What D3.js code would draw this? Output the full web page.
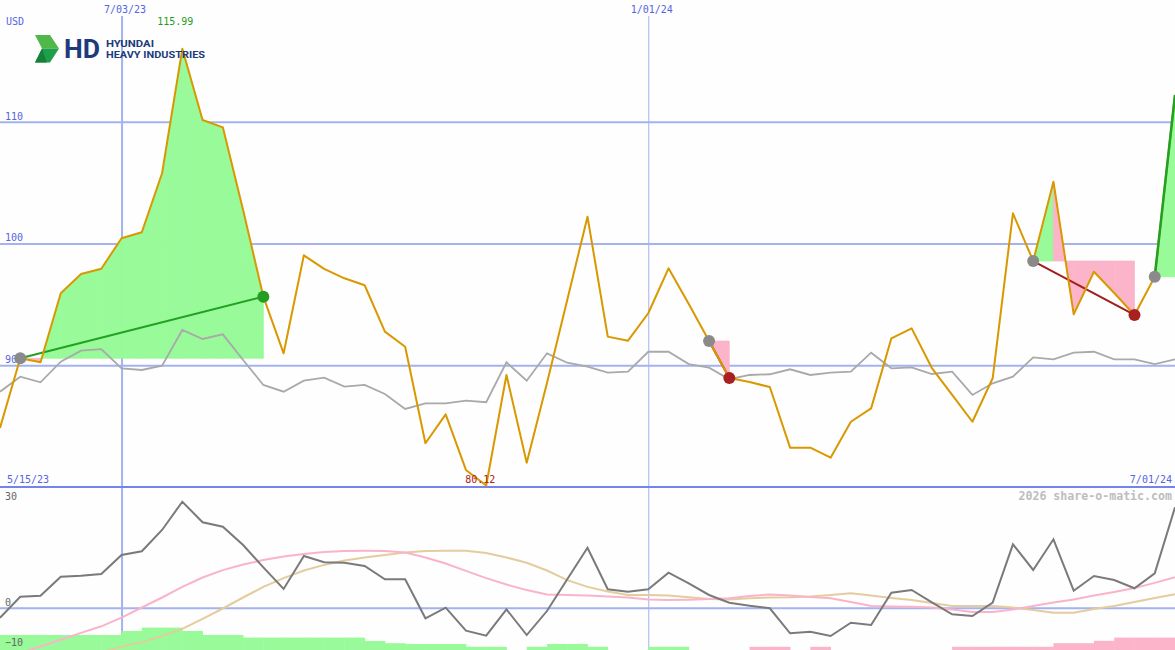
<!DOCTYPE html>
<html><head><meta charset="utf-8">
<script src="https://cdn.jsdelivr.net/npm/d3@7"></script>
<style>
body{margin:0;background:#fdfefd}
svg{display:block}
text{font-family:"DejaVu Sans Mono",monospace}
</style>
</head><body>
<svg id="c" width="1175" height="650"></svg>
<script>
// ---------- data ----------
const dates = [
 "2023-05-22","2023-05-29","2023-06-05","2023-06-12","2023-06-19","2023-06-26","2023-07-03","2023-07-10","2023-07-17","2023-07-24",
 "2023-07-31","2023-08-07","2023-08-14","2023-08-21","2023-08-28","2023-09-04","2023-09-11","2023-09-18","2023-09-25","2023-10-02",
 "2023-10-09","2023-10-16","2023-10-23","2023-10-30","2023-11-06","2023-11-13","2023-11-20","2023-11-27","2023-12-04","2023-12-11",
 "2023-12-18","2023-12-25","2024-01-01","2024-01-08","2024-01-15","2024-01-22","2024-01-29","2024-02-05","2024-02-12","2024-02-19",
 "2024-02-26","2024-03-04","2024-03-11","2024-03-18","2024-03-25","2024-04-01","2024-04-08","2024-04-15","2024-04-22","2024-04-29",
 "2024-05-06","2024-05-13","2024-05-20","2024-05-27","2024-06-03","2024-06-10","2024-06-17","2024-06-24","2024-07-01"];
const price = [84.85, 90.57, 90.24, 95.91, 97.49, 97.93, 100.43, 100.92, 105.77, 115.99,
 110.14, 109.54, 102.75, 95.63, 90.98, 99.03, 97.91, 97.14, 96.57, 92.76,
 91.52, 83.59, 85.97, 81.40, 80.12, 89.20, 82.00, 88.54, 95.36, 102.20,
 92.35, 92.02, 94.27, 97.96, 95.03, 91.99, 88.95, 88.62, 88.21, 83.23,
 83.23, 82.41, 85.36, 86.46, 92.21, 93.03, 89.77, 87.56, 85.36, 88.93,
 102.48, 98.56, 105.08, 94.18, 97.68, 95.93, 94.13, 97.27, 112.20];
const relative = [87.83, 89.06, 88.60, 90.29, 91.20, 91.33, 89.75, 89.61, 89.96, 92.90,
 92.16, 92.54, 90.43, 88.38, 87.83, 88.73, 88.98, 88.24, 88.38, 87.64,
 86.41, 86.87, 86.87, 87.09, 86.96, 90.24, 88.73, 90.98, 90.21, 89.88,
 89.39, 89.47, 91.11, 91.11, 90.10, 89.80, 88.85, 89.20, 89.26, 89.67,
 89.20, 89.39, 89.47, 91.03, 89.75, 89.83, 89.28, 89.47, 87.56, 88.52,
 89.06, 90.65, 90.49, 91.03, 91.11, 90.49, 90.49, 90.10, 90.49];
const momentum = [-2.5, 2.75, 3.0, 7.75, 8.0, 8.43, 13.18, 14.1, 19.43, 26.5,
 21.35, 20.25, 15.68, 10.1, 4.68, 12.93, 11.35, 11.25, 10.43, 7.1,
 7.1, -2.65, 0, -5.75, -7.0, -0.4, -6.83, -0.83, 7.1, 15.0,
 4.6, 4.0, 4.6, 8.75, 6.1, 3.18, 1.25, 0.5, -0.15, -6.4,
 -6.0, -7.08, -3.75, -4.33, 3.75, 4.43, 1.35, -1.65, -2.08, 1.25,
 15.85, 9.43, 17.1, 4.25, 7.93, 6.93, 4.85, 8.6, 25.1];
const avgFast = [-13, -11.3, -9.7, -8.0, -6.3, -4.65, -2.5, 0.05, 2.55, 5.2,
 7.55, 9.4, 10.8, 11.9, 12.8, 13.4, 13.9, 14.2, 14.25, 14.2,
 13.8, 12.55, 11.05, 9.2, 7.4, 5.8, 4.4, 3.3, 3.2, 3.05,
 2.8, 2.55, 2.05, 1.9, 2.0, 2.2, 2.35, 2.9, 3.3, 3.05,
 2.7, 2.35, 1.4, 0.4, 0.3, 0.25, 0.05, -0.45, -1.1, -1.1,
 -0.45, 0.4, 1.3, 2.05, 3.05, 3.9, 4.9, 6.2, 7.6];
const avgSlow = [-17.6, -16.3, -15, -13.7, -12.4, -11.1, -9.8, -8.6, -7.1, -5.3,
 -2.8, -0.2, 2.55, 5.2, 7.4, 9.3, 10.7, 11.8, 12.55, 13.2,
 13.8, 14.2, 14.25, 14.25, 13.7, 12.55, 11.25, 9.3, 6.9, 5.2,
 4.05, 3.2, 3.2, 3.05, 2.6, 2.2, 2.05, 2.35, 2.55, 2.6,
 2.8, 3.2, 3.6, 3.05, 2.45, 1.9, 1.2, 0.4, 0.4, 0.4,
 0.05, -0.6, -1.25, -1.25, -0.3, 0.4, 1.4, 2.4, 3.35];
const histogram = [3.75, 3.75, 3.75, 3.75, 3.75, 3.75, 4.75, 5.6, 5.6, 4.75,
 3.75, 3.75, 3.1, 3.1, 3.1, 3.1, 3.1, 3.1, 2.25, 1.7,
 1.5, 1.5, 1.5, 0.8, 0.8, 0, 0.8, 1.5, 1.5, 0.8,
 0, 0, 0.8, 0.8, 0, 0, 0, -0.8, -0.8, 0,
 -0.8, 0, 0, 0, 0, 0, 0, -0.8, -0.8, -0.8,
 -0.8, -0.8, -1.7, -1.7, -2.3, -3.1, -3.1, -3.1, -3.1];
const signalEntry = ["2023-05-29", "2024-01-22", "2024-05-13", "2024-06-24"];
const signalExit  = ["2023-08-21", "2024-01-29", "2024-06-17", "2024-07-01"];
const signalOpen  = [false, false, false, true];
const priceTicks = [110, 100, 90];
const oscTicks = [30, 0, -10];
const dateTicks = ["2023-07-03", "2024-01-01"];
const dateTickLabels = ["7/03/23", "1/01/24"];
const startLabel = "5/15/23", endLabel = "7/01/24";
const currency = "USD";
const maxLabel = "115.99", minLabel = "80.12";
const watermark = "2026 share-o-matic.com";

// ---------- setup ----------
const W = 1175, H = 650;
const svg = d3.select("#c");
const parse = d3.utcParse("%Y-%m-%d");
const D = dates.map(parse);
const x = d3.scaleUtc().domain([D[0], D[D.length - 1]]).range([0, W]);
const y = d3.scaleLinear().domain([80, 120]).range([487, 0]);
const y2 = d3.scaleLinear().domain([-10, 30]).range([647.7, 487.7]);
const yh = d3.scaleLinear().domain([0, 10]).range([650, 610]);
const step = x(D[1]) - x(D[0]);
const idx = s => dates.indexOf(s);

const BLUE = "#5565e5", GRID = "#a4b2f2";
const GREENF = "#98fa98", PINKF = "#fbb4c9";

svg.append("rect").attr("width", W).attr("height", H).attr("fill", "#fdfefd");

// ---------- grid & axes ----------
const gy = svg.append("g").call(d3.axisRight(y).tickValues(priceTicks).tickSize(W).tickFormat(d3.format("d")));
gy.select(".domain").remove();
gy.selectAll("line").attr("stroke", GRID).attr("stroke-width", 2);
gy.selectAll("text").attr("x", 5).attr("dy", -2.6).attr("fill", BLUE).style("font-size", "10px");

const gx = svg.append("g").attr("transform", "translate(0,16)")
  .call(d3.axisTop(x).tickValues(dateTicks.map(parse)).tickSize(-(H - 16)).tickFormat((d, i) => dateTickLabels[i]));
gx.select(".domain").remove();
gx.selectAll("line").attr("stroke", GRID).attr("stroke-width", (d, i) => i === 0 ? 2 : 1);
gx.selectAll("text").attr("dx", 3).attr("fill", BLUE).style("font-size", "10px");

const g2 = svg.append("g").call(d3.axisRight(y2).tickValues(oscTicks).tickSize(W).tickFormat(d3.format("d")));
g2.select(".domain").remove();
g2.selectAll("line").attr("stroke", d => d === 0 ? GRID : "none").attr("stroke-width", 2);
g2.selectAll("text").remove();

svg.append("line").attr("x1", 0).attr("x2", W).attr("y1", y(80)).attr("y2", y(80))
  .attr("stroke", "#7584ec").attr("stroke-width", 2);

// ---------- bottom panel ----------
svg.append("g").selectAll("rect")
  .data(histogram.map((v, i) => ({ v, i })).filter(d => d.v !== 0))
  .join("rect")
  .attr("x", d => x(D[d.i])).attr("width", step + 0.4)
  .attr("y", d => yh(Math.abs(d.v))).attr("height", d => H - yh(Math.abs(d.v)))
  .attr("fill", d => d.v > 0 ? GREENF : PINKF);

const line2 = d3.line().x((d, i) => x(D[i])).y(d => y2(d));
svg.append("path").datum(avgSlow).attr("d", line2).attr("fill", "none").attr("stroke", "#e4cc9e").attr("stroke-width", 2);
svg.append("path").datum(avgFast).attr("d", line2).attr("fill", "none").attr("stroke", "#f9b4c9").attr("stroke-width", 2);
svg.append("path").datum(momentum).attr("d", line2).attr("fill", "none").attr("stroke", "#7a7a7a").attr("stroke-width", 2);

const g2t = svg.append("g").call(d3.axisRight(y2).tickValues(oscTicks).tickSize(0).tickFormat(d3.format("d")));
g2t.select(".domain").remove();
g2t.selectAll("line").remove();
g2t.selectAll("text").attr("x", 5).attr("dy", d => d === 30 ? 12 : -2).attr("fill", "#666").style("font-size", "10px");

// ---------- signal fills ----------
const fills = svg.append("g");
signalEntry.forEach((s, k) => {
  const a = idx(s), b = idx(signalExit[k]);
  const base = price[a];
  const ar = d3.area().x(j => x(D[j])).y0(y(base)).y1(j => y(price[j]));
  for (let i = a; i < b; i++) {
    const col = price[i + 1] >= base ? GREENF : PINKF;
    fills.append("path").attr("d", ar([i, i + 1]))
      .attr("fill", col).attr("stroke", col).attr("stroke-width", 0.7);
  }
});

// ---------- main lines ----------
const line1 = d3.line().x((d, i) => x(D[i])).y(d => y(d));
svg.append("path").datum(relative).attr("d", line1).attr("fill", "none").attr("stroke", "#a9a9a9").attr("stroke-width", 1.8);

const drawSignalLine = k => {
  const a = idx(signalEntry[k]), b = idx(signalExit[k]);
  const win = price[b] >= price[a];
  svg.append("line").attr("x1", x(D[a])).attr("y1", y(price[a])).attr("x2", x(D[b])).attr("y2", y(price[b]))
    .attr("stroke", win ? "#22a022" : "#a01e1e").attr("stroke-width", signalOpen[k] ? 2.5 : 2);
};
signalEntry.forEach((s, k) => { if (!signalOpen[k]) drawSignalLine(k); });

svg.append("path").datum(price).attr("d", line1).attr("fill", "none").attr("stroke", "#da9800").attr("stroke-width", 2).attr("stroke-linejoin", "round");

signalEntry.forEach((s, k) => { if (signalOpen[k]) drawSignalLine(k); });

// ---------- labels ----------
const T = (t, xx, yy, opt = {}) => svg.append("text").text(t).attr("x", xx).attr("y", yy)
  .attr("fill", opt.fill || BLUE).attr("text-anchor", opt.anchor || "start")
  .style("font-size", opt.size || "10px").style("font-weight", opt.weight || "normal");
T(currency, 6, 24.6);
T(startLabel, 7, 482.6);
T(endLabel, 1172, 482.6, { anchor: "end" });
const iMax = price.indexOf(d3.max(price)), iMin = price.indexOf(d3.min(price));
T(maxLabel, x(D[iMax]) - 7, 25, { anchor: "middle", fill: "#1e9e1e" });
T(minLabel, x(D[iMin]) - 6, y(price[iMin]) - 2.5, { anchor: "middle", fill: "#aa2222" });
T(watermark, 1172, 500, { anchor: "end", fill: "#bdbdbd", size: "11.6px", weight: "bold" });

// ---------- markers ----------
signalEntry.forEach((s, k) => {
  const a = idx(s), b = idx(signalExit[k]);
  const win = price[b] >= price[a];
  svg.append("circle").attr("cx", x(D[a])).attr("cy", y(price[a])).attr("r", 6).attr("fill", "#8a8a8a");
  if (!signalOpen[k]) {
    svg.append("circle").attr("cx", x(D[b])).attr("cy", y(price[b])).attr("r", 6)
      .attr("fill", win ? "#229c22" : "#a82020");
  }
});

// ---------- logo ----------
const logo = svg.append("g");
logo.append("polygon").attr("points", "35,35 50,35 59,48.5 42,48.5").attr("fill", "#4fb848");
logo.append("polygon").attr("points", "42,48.5 59,48.5 50,62.5 35,62.5").attr("fill", "#1fa048");
logo.append("polygon").attr("points", "35,62.5 42,48.5 47,62.5").attr("fill", "#168038");
logo.append("text").text("HD").attr("x", 64).attr("y", 57.5).attr("fill", "#1d3b7c")
  .attr("textLength", 36).attr("lengthAdjust", "spacingAndGlyphs")
  .style("font-family", "Roboto, Arial, sans-serif").style("font-weight", "bold").style("font-size", "26px");
logo.append("text").text("HYUNDAI").attr("x", 106).attr("y", 46.5).attr("fill", "#1d3b7c")
  .attr("textLength", 48).attr("lengthAdjust", "spacingAndGlyphs")
  .style("font-family", "Roboto, Arial, sans-serif").style("font-weight", "bold").style("font-size", "9.8px");
logo.append("text").text("HEAVY INDUSTRIES").attr("x", 106).attr("y", 58).attr("fill", "#1d3b7c")
  .attr("textLength", 99).attr("lengthAdjust", "spacingAndGlyphs")
  .style("font-family", "Roboto, Arial, sans-serif").style("font-weight", "bold").style("font-size", "9.8px");
</script>
</body></html>
